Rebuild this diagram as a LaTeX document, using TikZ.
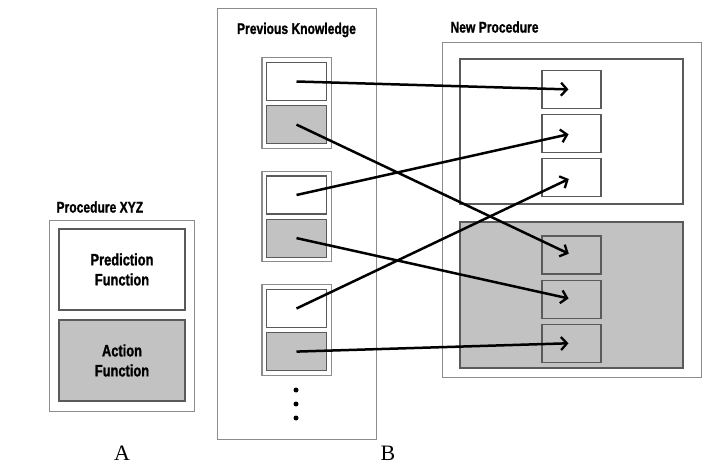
\documentclass[tikz,border=0pt]{standalone}
\usepackage{fontspec}
\setmainfont{Liberation Serif}
\newfontfamily\headfont[FakeStretch=0.78,FakeBold=1.2]{Liberation Sans Bold}
\usetikzlibrary{arrows.meta,positioning,fit}
\definecolor{fillgray}{RGB}{194,194,194}
\definecolor{linegray}{RGB}{140,140,140}
\definecolor{darkline}{RGB}{90,90,90}
\begin{document}
\begin{tikzpicture}[x=1pt, y=-1pt, node distance=5pt,
    frame/.style={draw=linegray, line width=0.9pt, inner sep=0pt},
    wpart/.style={draw=darkline, line width=1.1pt, fill=white, inner sep=0pt,
      minimum width=60pt, minimum height=38pt},
    gpart/.style={wpart, fill=fillgray},
    grp/.style={draw=linegray, line width=1.1pt, inner sep=4pt},
    head/.style={font=\headfont\fontsize{15.5}{15.5}\selectfont},
    fn/.style={font=\headfont\fontsize{16.5}{20}\selectfont, align=center},
    letter/.style={font=\fontsize{22}{22}\selectfont},
    arr/.style={line width=2.5pt, -{Straight Barb[length=6pt,width=13pt,line width=2.3pt]},
      shorten >=3pt},
    dot/.style={circle, fill=black, inner sep=0pt, minimum size=5pt}]
  \useasboundingbox (0,0) rectangle (716,476);
  % A: one procedure
  \node (pa) at (121.5,315.5) [frame, minimum width=145pt, minimum height=191pt] {};
  \node (pred) at (122,269.5) [wpart, minimum width=126pt, minimum height=81pt, fn]
    {Prediction\\Function};
  \node (act) at (122,360.5) [gpart, minimum width=126pt, minimum height=81pt, fn]
    {Action\\Function};
  \node (ta) at (53,207) [head, anchor=west] {Procedure XYZ};
  \node (la) at (122,453) [letter] {A};
  % B: previous knowledge
  \node (pk) at (296.5,223.5) [frame, minimum width=159pt, minimum height=431pt] {};
  \node (tb) at (296.5,30) [head] {Previous Knowledge};
  \node (k1a) at (296.5,81.5) [wpart] {};
  \node (k1b) [gpart, below=4pt of k1a] {};
  \node (k2a) at (296.5,195) [wpart] {};
  \node (k2b) [gpart, below=4pt of k2a] {};
  \node (k3a) at (296.5,308.5) [wpart] {};
  \node (k3b) [gpart, below=4pt of k3a] {};
  \node (g1) [grp, fit=(k1a)(k1b)] {};
  \node (g2) [grp, fit=(k2a)(k2b)] {};
  \node (g3) [grp, fit=(k3a)(k3b)] {};
  \node (d1) at (296,390) [dot] {};
  \node (d2) at (296,404) [dot] {};
  \node (d3) at (296,418) [dot] {};
  \node (lb) at (388,453) [letter] {B};
  % C: new procedure
  \node (np) at (571.5,209.5) [frame, minimum width=259pt, minimum height=335pt] {};
  \node (tc) at (447,27) [head, anchor=west] {New Procedure};
  \node (npw) at (571.5,131.5) [wpart, minimum width=223pt, minimum height=145pt] {};
  \node (npg) at (571.5,295) [gpart, minimum width=223pt, minimum height=146pt] {};
  \node (c1) at (571.5,89.5) [wpart, minimum width=59pt] {};
  \node (c2) [wpart, minimum width=59pt, below=of c1] {};
  \node (c3) [wpart, minimum width=59pt, below=of c2] {};
  \node (c4) at (571.5,255) [gpart, minimum width=59pt] {};
  \node (c5) [gpart, minimum width=59pt, below=of c4] {};
  \node (c6) [gpart, minimum width=59pt, below=of c5] {};
  \draw[arr] (k1a.center) -- (c1.center);
  \draw[arr] (k1b.center) -- (c4.center);
  \draw[arr] (k2a.center) -- (c2.center);
  \draw[arr] (k2b.center) -- (c5.center);
  \draw[arr] (k3a.center) -- (c3.center);
  \draw[arr] (k3b.center) -- (c6.center);
\end{tikzpicture}
\end{document}
